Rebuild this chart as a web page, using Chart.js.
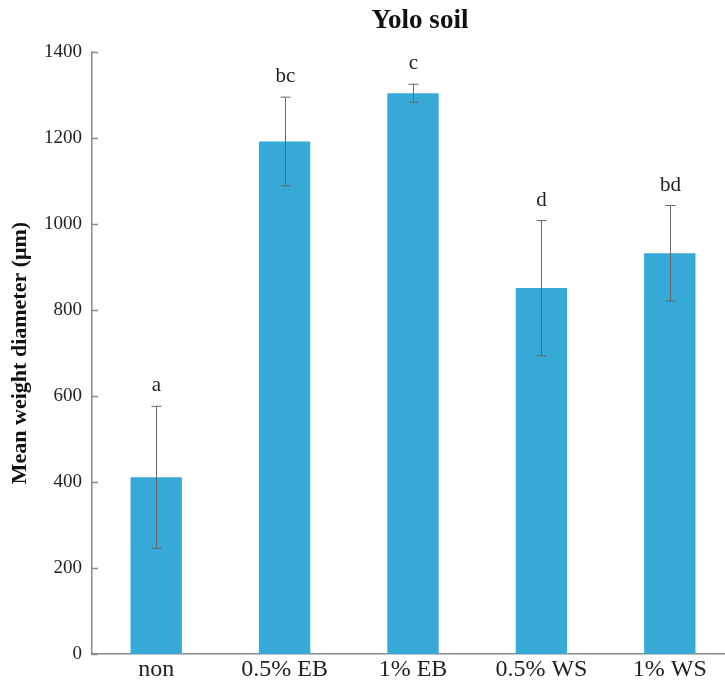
<!DOCTYPE html>
<html>
<head>
<meta charset="utf-8">
<script src="https://cdn.jsdelivr.net/npm/chart.js@4.4.1/dist/chart.umd.min.js"></script>
<style>
  html, body { margin: 0; padding: 0; background: #fff; overflow: hidden; }
  #wrap { width: 745px; height: 691px; }
</style>
</head>
<body>
<div id="wrap"><canvas id="c" width="745" height="691"></canvas></div>
<script>
// Treatments and mean weight diameter (µm) with standard deviations
const categories = ['non', '0.5% EB', '1% EB', '0.5% WS', '1% WS'];
const meanMWD = [411, 1192, 1304, 851, 932];
const errMWD = [165, 103, 21, 157, 111];
const letters = ['a', 'bc', 'c', 'd', 'bd'];
const yTicks = [0, 200, 400, 600, 800, 1000, 1200, 1400];

const SERIF = '"Liberation Serif", "Times New Roman", serif';
const AXIS_GREY = '#8a8a8a';

// Inward-pointing tick marks on the value axis
const innerTicksPlugin = {
  id: 'innerTicks',
  afterDraw(chart) {
    const { ctx, scales: { y } } = chart;
    ctx.save();
    ctx.strokeStyle = AXIS_GREY;
    ctx.lineWidth = 1.5;
    yTicks.forEach(v => {
      const py = Math.round(y.getPixelForValue(v)) + 0.5;
      ctx.beginPath();
      ctx.moveTo(y.right, py);
      ctx.lineTo(y.right + 6, py);
      ctx.stroke();
    });
    ctx.restore();
  }
};

// Error bars and significance letters drawn from the data arrays via the scales
const errorBarPlugin = {
  id: 'errorBars',
  afterDatasetsDraw(chart) {
    const { ctx, scales: { x, y } } = chart;
    ctx.save();
    ctx.strokeStyle = '#666';
    ctx.lineWidth = 1;
    meanMWD.forEach((m, i) => {
      const cx = Math.round(x.getPixelForValue(i)) + 0.5;
      const top = y.getPixelForValue(m + errMWD[i]);
      const bot = y.getPixelForValue(m - errMWD[i]);
      ctx.beginPath();
      ctx.moveTo(cx, top); ctx.lineTo(cx, bot);
      ctx.moveTo(cx - 5, top); ctx.lineTo(cx + 5, top);
      ctx.moveTo(cx - 5, bot); ctx.lineTo(cx + 5, bot);
      ctx.stroke();
      ctx.fillStyle = '#222';
      ctx.font = '21px ' + SERIF;
      ctx.textAlign = 'center';
      ctx.textBaseline = 'bottom';
      ctx.fillText(letters[i], cx, top - 10);
    });
    ctx.restore();
  }
};

// Chart heading
const headingPlugin = {
  id: 'heading',
  afterDraw(chart) {
    const { ctx, chartArea } = chart;
    ctx.save();
    ctx.fillStyle = '#111';
    ctx.font = 'bold 27px ' + SERIF;
    ctx.textAlign = 'center';
    ctx.textBaseline = 'middle';
    ctx.fillText('Yolo soil', (chartArea.left + chartArea.right) / 2 + 7, 21);
    ctx.restore();
  }
};

new Chart(document.getElementById('c'), {
  type: 'bar',
  data: {
    labels: categories,
    datasets: [{
      data: meanMWD,
      backgroundColor: '#36a9d7',
      borderWidth: 0,
      barPercentage: 0.4,
      categoryPercentage: 1.0
    }]
  },
  options: {
    responsive: false,
    animation: false,
    layout: { padding: { top: 52, right: 11, left: 0, bottom: 0 } },
    plugins: { legend: { display: false }, tooltip: { enabled: false } },
    scales: {
      x: {
        grid: { display: false, drawTicks: false },
        border: { color: AXIS_GREY, width: 1.5 },
        ticks: { color: '#222', font: { family: SERIF, size: 24 }, padding: 1 },
        afterFit(scale) { scale.height = 37; }
      },
      y: {
        min: 0,
        max: 1400,
        afterBuildTicks(scale) { scale.ticks = yTicks.map(v => ({ value: v })); },
        grid: { display: false, drawTicks: false },
        border: { color: AXIS_GREY, width: 1.5 },
        ticks: {
          color: '#222',
          font: { family: SERIF, size: 19 },
          padding: 10,
          callback: v => String(v)
        },
        title: {
          display: true,
          text: 'Mean weight diameter (μm)',
          color: '#111',
          font: { family: SERIF, size: 22, weight: 'bold' },
          padding: { top: 7, bottom: 0 }
        },
        afterFit(scale) { scale.width = 92; }
      }
    }
  },
  plugins: [errorBarPlugin, innerTicksPlugin, headingPlugin]
});
</script>
</body>
</html>
